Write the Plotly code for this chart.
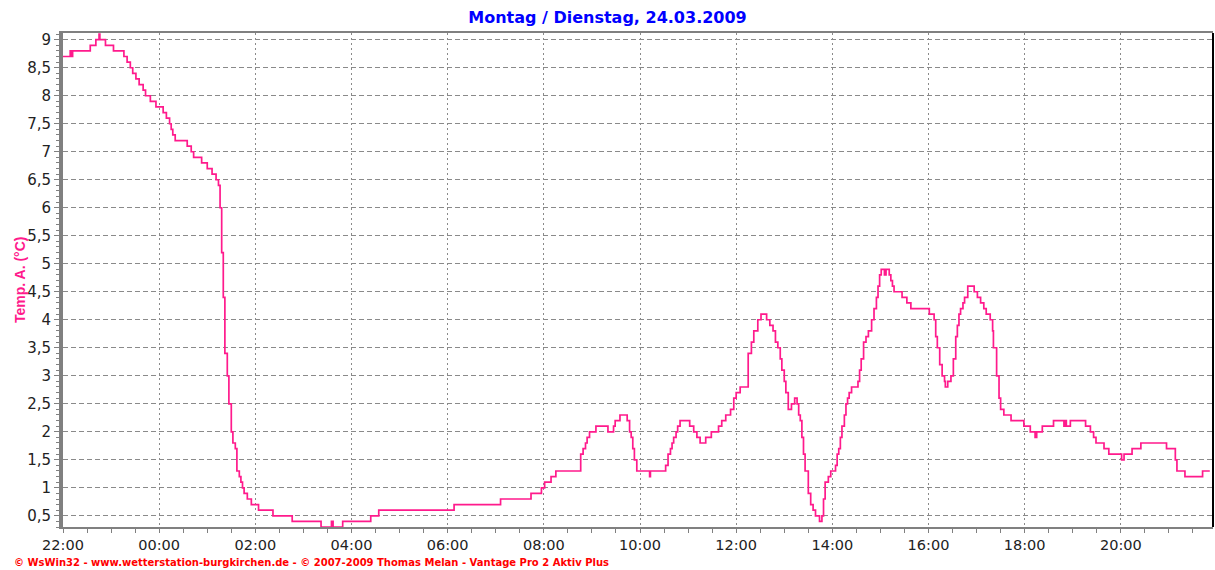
import plotly.graph_objects as go
from datetime import datetime

title_text = "Montag / Dienstag, 24.03.2009"
y_label = "Temp. A. (°C)"
footer_text = "© WsWin32 - www.wetterstation-burgkirchen.de - © 2007-2009 Thomas Melan - Vantage Pro 2 Aktiv Plus"

times = [
    "22:00", "22:09", "22:10", "22:12", "22:34", "22:41", "22:45", "22:46", "22:53", "23:03",
    "23:16", "23:20", "23:24", "23:27", "23:31", "23:35", "23:40", "23:43", "23:49", "23:56",
    "00:05", "00:09", "00:13", "00:15", "00:17", "00:20", "00:35", "00:40", "00:43", "00:53",
    "01:00", "01:06", "01:11", "01:14", "01:16", "01:18", "01:20", "01:22", "01:25", "01:27",
    "01:30", "01:32", "01:35", "01:37", "01:40", "01:42", "01:44", "01:46", "01:50", "01:55",
    "02:04", "02:22", "02:46", "03:22", "03:35", "03:37", "03:49", "04:24", "04:34", "06:08",
    "07:06", "07:44", "07:57", "08:01", "08:09", "08:15", "08:46", "08:49", "08:52", "08:54",
    "08:57", "09:05", "09:20", "09:27", "09:29", "09:35", "09:44", "09:47", "09:49", "09:51",
    "09:53", "09:56", "10:12", "10:13", "10:32", "10:35", "10:38", "10:40", "10:42", "10:45",
    "10:47", "10:50", "11:02", "11:07", "11:11", "11:15", "11:22", "11:29", "11:38", "11:42",
    "11:47", "11:53", "11:57", "12:00", "12:05", "12:15", "12:19", "12:22", "12:27", "12:31",
    "12:38", "12:42", "12:46", "12:49", "12:52", "12:55", "12:57", "13:00", "13:02", "13:05",
    "13:09", "13:13", "13:16", "13:18", "13:20", "13:22", "13:24", "13:26", "13:30", "13:33",
    "13:36", "13:39", "13:44", "13:47", "13:49", "13:51", "13:55", "13:58", "14:04", "14:06",
    "14:08", "14:10", "14:12", "14:15", "14:17", "14:19", "14:21", "14:24", "14:32", "14:34",
    "14:36", "14:39", "14:42", "14:45", "14:49", "14:52", "14:55", "14:57", "14:59", "15:01",
    "15:05", "15:07", "15:11", "15:13", "15:15", "15:17", "15:27", "15:33", "15:38", "16:01",
    "16:07", "16:09", "16:11", "16:14", "16:17", "16:20", "16:21", "16:24", "16:28", "16:31",
    "16:34", "16:36", "16:38", "16:40", "16:43", "16:45", "16:49", "16:57", "17:01", "17:05",
    "17:09", "17:12", "17:17", "17:20", "17:21", "17:25", "17:28", "17:30", "17:34", "17:43",
    "17:59", "18:07", "18:13", "18:15", "18:22", "18:36", "18:49", "18:51", "18:52", "18:57",
    "19:16", "19:22", "19:26", "19:29", "19:39", "19:45", "20:01", "20:04", "20:14", "20:25",
    "20:57", "21:08", "21:10", "21:20", "21:42", "21:51",
]
temps = [
    8.7, 8.8, 8.7, 8.8, 8.9, 9.0, 9.1, 9.0, 8.9, 8.8,
    8.7, 8.6, 8.5, 8.4, 8.3, 8.2, 8.1, 8.0, 7.9, 7.8,
    7.7, 7.6, 7.5, 7.4, 7.3, 7.2, 7.1, 7.0, 6.9, 6.8,
    6.7, 6.6, 6.5, 6.4, 6.0, 5.2, 4.4, 3.4, 3.0, 2.5,
    2.0, 1.8, 1.7, 1.3, 1.2, 1.1, 1.0, 0.9, 0.8, 0.7,
    0.6, 0.5, 0.4, 0.3, 0.4, 0.3, 0.4, 0.5, 0.6, 0.7,
    0.8, 0.9, 1.0, 1.1, 1.2, 1.3, 1.6, 1.7, 1.8, 1.9,
    2.0, 2.1, 2.0, 2.1, 2.2, 2.3, 2.2, 2.0, 1.9, 1.7,
    1.5, 1.3, 1.2, 1.3, 1.4, 1.6, 1.7, 1.8, 1.9, 2.0,
    2.1, 2.2, 2.1, 2.0, 1.9, 1.8, 1.9, 2.0, 2.1, 2.2,
    2.3, 2.4, 2.6, 2.7, 2.8, 3.4, 3.6, 3.8, 4.0, 4.1,
    4.0, 3.9, 3.8, 3.6, 3.5, 3.3, 3.1, 2.9, 2.7, 2.4,
    2.5, 2.6, 2.5, 2.3, 2.2, 1.9, 1.6, 1.3, 0.9, 0.7,
    0.6, 0.5, 0.4, 0.5, 0.8, 1.1, 1.2, 1.3, 1.4, 1.6,
    1.7, 1.9, 2.1, 2.3, 2.5, 2.6, 2.7, 2.8, 2.9, 3.1,
    3.3, 3.6, 3.7, 3.8, 4.0, 4.2, 4.4, 4.6, 4.8, 4.9,
    4.8, 4.9, 4.8, 4.7, 4.6, 4.5, 4.4, 4.3, 4.2, 4.1,
    4.0, 3.7, 3.5, 3.2, 3.0, 2.9, 2.8, 2.9, 3.0, 3.3,
    3.7, 3.9, 4.1, 4.2, 4.3, 4.4, 4.6, 4.5, 4.4, 4.3,
    4.2, 4.1, 4.0, 3.8, 3.5, 3.0, 2.6, 2.4, 2.3, 2.2,
    2.1, 2.0, 1.9, 2.0, 2.1, 2.2, 2.1, 2.2, 2.1, 2.2,
    2.1, 2.0, 1.9, 1.8, 1.7, 1.6, 1.5, 1.6, 1.7, 1.8,
    1.7, 1.5, 1.3, 1.2, 1.3, 1.3,
]

def to_dt(hm):
    h, m = map(int, hm.split(":"))
    day = 23 if h >= 22 else 24
    return datetime(2009, 3, day, h, m)

x = [to_dt(t) for t in times]

GRID = "#8a8a8a"
AXIS = "#808080"
PINK = "#FF1A8C"

fig = go.Figure()
fig.add_trace(go.Scatter(
    x=x, y=temps, mode="lines", line=dict(color=PINK, width=1.7, shape="hv"),
    hoverinfo="skip", showlegend=False,
))

fig.update_layout(
    width=1215, height=570,
    margin=dict(l=63, r=2, t=33, b=43),
    paper_bgcolor="white", plot_bgcolor="white",
    separators=",.",
    title=dict(text=f"<b>{title_text}</b>", x=0.5, xref="container", xanchor="center",
               y=1 - 17 / 570, yref="container", yanchor="middle",
               font=dict(family="DejaVu Sans, Verdana, sans-serif", size=16, color="#0000FF")),
    xaxis=dict(
        type="date",
        range=[datetime(2009, 3, 23, 22, 0), datetime(2009, 3, 24, 21, 55)],
        tick0=datetime(2009, 3, 23, 22, 0), dtick=2 * 3600 * 1000,
        tickformat="%H:%M",
        showgrid=True, gridcolor=GRID, gridwidth=1, griddash="2px,3px",
        showline=True, linecolor=AXIS, linewidth=2, mirror=True,
        ticks="outside", ticklen=4, tickcolor=AXIS, tickwidth=1,
        minor=dict(dtick=30 * 60 * 1000, ticks="outside", ticklen=4, tickcolor=AXIS, showgrid=False),
        tickfont=dict(family="DejaVu Sans, Verdana, sans-serif", size=14.5, color="#222222"),
        zeroline=False, fixedrange=True,
    ),
    yaxis=dict(
        range=[0.3, 9.12],
        tick0=0, dtick=0.5,
        showgrid=True, gridcolor=GRID, gridwidth=1, griddash="5px,3px",
        showline=True, linecolor=AXIS, linewidth=4, mirror=False,
        ticks="outside", ticklen=5, tickcolor=AXIS, tickwidth=1,
        minor=dict(dtick=0.1, ticks="outside", ticklen=3, tickcolor=AXIS, showgrid=False),
        tickfont=dict(family="DejaVu Sans, Verdana, sans-serif", size=15, color="#222222"),
        zeroline=False, fixedrange=True,
    ),
    annotations=[
        dict(text=f"<b>{y_label}</b>", textangle=-90, xref="paper", yref="paper",
             x=(20 - 63) / 1150, y=0.5, xanchor="center", yanchor="middle", showarrow=False,
             font=dict(family="Liberation Sans Narrow, Arial Narrow, Liberation Sans, Arial", size=14, color=PINK)),
        dict(text=f"<b>{footer_text}</b>", xref="paper", yref="paper",
             x=(12 - 63) / 1150, y=(527 - 562) / 494, xanchor="left", yanchor="middle", showarrow=False,
             font=dict(family="DejaVu Sans, Verdana, sans-serif", size=10, color="#FF0000")),
    ],
    shapes=[
        dict(type="line", xref="paper", yref="paper", x0=1, x1=1, y0=0, y1=1,
             line=dict(color="black", width=2)),
    ],
)

fig.write_html("out.html", config={"displayModeBar": False},
               post_script="document.body.style.margin='0';document.body.style.overflow='hidden';")
